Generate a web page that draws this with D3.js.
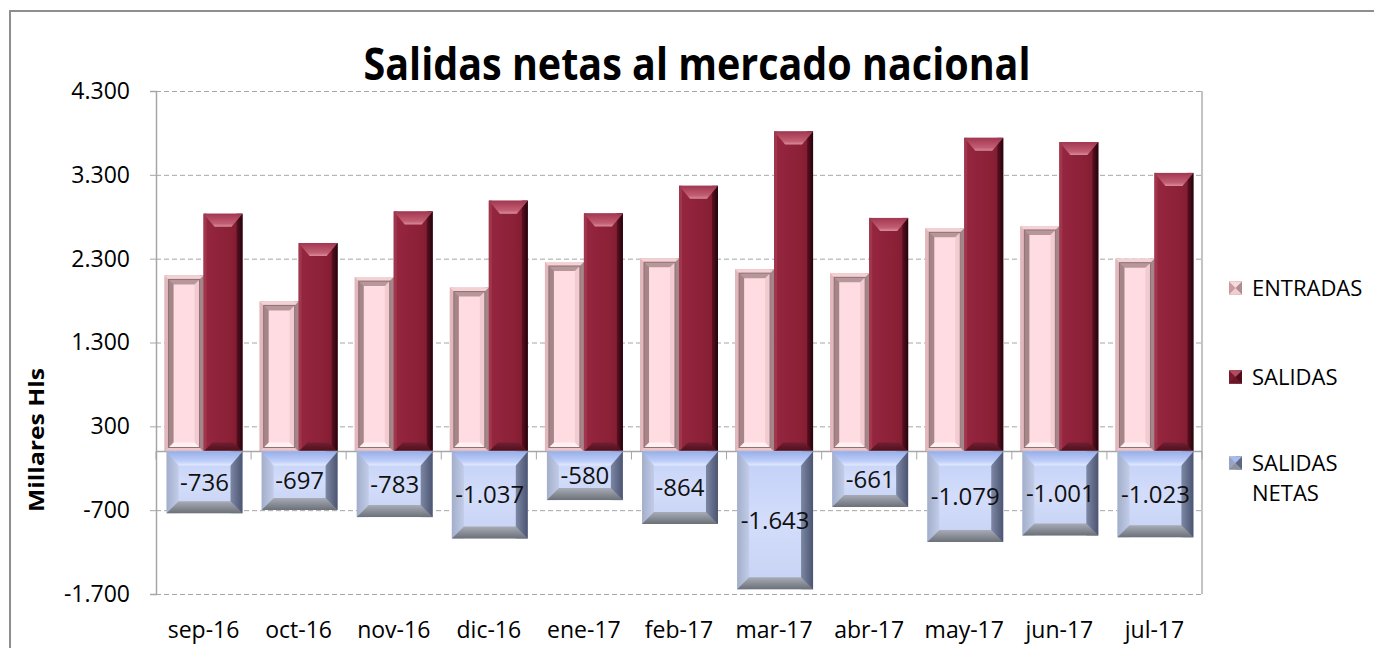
<!DOCTYPE html>
<html>
<head>
<meta charset="utf-8">
<script src="https://cdn.jsdelivr.net/npm/d3@7"></script>
<style>
  body { margin: 0; background: #fff; }
  svg { display: block; font-family: "Open Sans", sans-serif; }
</style>
</head>
<body>
<div id="chart"></div>
<script>
// datos (miles de hl)
var months = ["sep-16","oct-16","nov-16","dic-16","ene-17","feb-17","mar-17","abr-17","may-17","jun-17","jul-17"];
var entradas = [2100, 1790, 2080, 1955, 2260, 2305, 2175, 2125, 2662, 2690, 2300];
var salidas = [2836, 2487, 2863, 2992, 2840, 3169, 3818, 2786, 3741, 3691, 3323];
var netas = [-736, -697, -783, -1037, -580, -864, -1643, -661, -1079, -1001, -1023];
var yTicks = [-1700, -700, 300, 1300, 2300, 3300, 4300];
var seriesNames = ["ENTRADAS", "SALIDAS", "SALIDAS NETAS"];

var W = 1374, H = 648;
var margin = {top: 91, right: 172, bottom: 54, left: 156};
var plotW = W - margin.left - margin.right,
    plotH = H - margin.top - margin.bottom;

var es = d3.formatLocale({decimal: ",", thousands: ".", grouping: [3], currency: ["", "€"], minus: "-"});
var fmt = es.format(",d");

var svg = d3.select("#chart").append("svg")
  .attr("width", W).attr("height", H);

var defs = svg.append("defs");
function grad(id, stops, vertical) {
  var g = defs.append("linearGradient").attr("id", id)
    .attr("x1", 0).attr("y1", 0)
    .attr("x2", vertical ? 0 : 1).attr("y2", vertical ? 1 : 0);
  stops.forEach(function(s) {
    g.append("stop").attr("offset", s[0]).attr("stop-color", s[1]);
  });
  return "url(#" + id + ")";
}

// estilos de bisel
var styles = {
  ENTRADAS: {
    face: "#d8abb0", t: 4, ti: 4, b: 4, bi: 4, l: 4, r: 4,
    top: "#f4d1d5", bottom: "#ecc6ca", left: "#e3b8bd", right: "#a4868a",
    inner: true
  },
  SALIDAS: {
    face: grad("salFace", [["0", "#962640"], ["0.7", "#8a2036"], ["1", "#7a1a2e"]], false),
    t: 13, ti: 11, b: 9, bi: 9, l: 3, r: 6,
    top: grad("salTop", [["0", "#a13750"], ["0.75", "#c25e73"], ["1", "#d98c9b"]], true),
    bottom: grad("salBot", [["0", "#702033"], ["1", "#4e0d1b"]], true),
    left: "#a0364c",
    right: grad("salRight", [["0", "#5e1022"], ["1", "#22040b"]], false)
  },
  NETAS: {
    face: grad("netFace", [["0", "#c1cff6"], ["0.5", "#d3ddfb"], ["1", "#c6d2f4"]], true),
    t: 14, ti: 12, b: 12, bi: 12, l: 12, r: 12,
    top: grad("netTop", [["0", "#97aeea"], ["0.7", "#bfcff9"], ["1", "#e3eaff"]], true),
    bottom: grad("netBot", [["0", "#a7acb6"], ["1", "#6c7079"]], true),
    left: grad("netLeft", [["0", "#a2aeca"], ["1", "#c2cce8"]], false),
    right: grad("netRight", [["0", "#7d88a4"], ["1", "#4b5470"]], false)
  }
};

function bevel(g, x, y, w, h, s) {
  var t = Math.min(s.t, h / 2), b = Math.min(s.b, h / 2);
  g.append("rect").attr("x", x).attr("y", y).attr("width", w).attr("height", h).attr("fill", s.face);
  g.append("rect").attr("x", x).attr("y", y).attr("width", s.l).attr("height", h).attr("fill", s.left);
  g.append("rect").attr("x", x + w - s.r).attr("y", y).attr("width", s.r).attr("height", h).attr("fill", s.right);
  g.append("polygon").attr("fill", s.top)
    .attr("points", [[x, y], [x + w, y], [x + w - s.ti, y + t], [x + s.ti, y + t]].join(" "));
  g.append("polygon").attr("fill", s.bottom)
    .attr("points", [[x, y + h], [x + w, y + h], [x + w - s.bi, y + h - b], [x + s.bi, y + h - b]].join(" "));
  if (s.inner && h > 12) {
    var ix = x + s.l, iy = y + s.t, iw = w - s.l - s.r, ih = h - s.t - s.b, k = 5;
    g.append("rect").attr("x", ix).attr("y", iy).attr("width", iw).attr("height", ih).attr("fill", "#ffdce1");
    g.append("rect").attr("x", ix).attr("y", iy).attr("width", k).attr("height", ih).attr("fill", "#a68589");
    g.append("rect").attr("x", ix + iw - k).attr("y", iy).attr("width", k).attr("height", ih).attr("fill", "#f2cbd0");
    g.append("polygon").attr("fill", "#b8979b")
      .attr("points", [[ix, iy], [ix + iw, iy], [ix + iw - k, iy + k], [ix + k, iy + k]].join(" "));
    g.append("polygon").attr("fill", "#fff0f2")
      .attr("points", [[ix, iy + ih], [ix + iw, iy + ih], [ix + iw - k, iy + ih - k], [ix + k, iy + ih - k]].join(" "));
    g.append("rect").attr("x", ix).attr("y", iy).attr("width", iw).attr("height", ih)
      .attr("fill", "none").attr("stroke", "#8d6f73").attr("stroke-width", 1);
  }
}

var x = d3.scaleBand().domain(months).range([margin.left, margin.left + plotW]);
var xIn = d3.scaleBand().domain(["ENTRADAS", "SALIDAS"]).range([0, x.bandwidth()])
  .paddingInner(0).paddingOuter(0.22);
var y = d3.scaleLinear().domain([yTicks[0], yTicks[yTicks.length - 1]])
  .range([margin.top + plotH, margin.top]);

// marco exterior
svg.append("rect").attr("x", 10).attr("y", 11).attr("width", W).attr("height", H)
  .attr("fill", "none").attr("stroke", "#8e8e8e").attr("stroke-width", 2);

// titulo
svg.append("text").attr("x", 697).attr("y", 80).attr("text-anchor", "middle")
  .attr("font-size", 44).attr("font-weight", 700).attr("fill", "#000")
  .attr("textLength", 667).attr("lengthAdjust", "spacingAndGlyphs")
  .text("Salidas netas al mercado nacional");

// rejilla
svg.append("g")
  .attr("transform", "translate(" + margin.left + ",0)")
  .call(d3.axisLeft(y).tickValues(yTicks).tickSize(-plotW).tickFormat(""))
  .call(function(g) {
    g.select(".domain").remove();
    g.selectAll("line").attr("stroke", "#a6a6a6").attr("stroke-dasharray", "5,3");
  });

// borde derecho
svg.append("line").attr("x1", margin.left + plotW).attr("x2", margin.left + plotW)
  .attr("y1", margin.top).attr("y2", margin.top + plotH)
  .attr("stroke", "#b0b0b0").attr("stroke-width", 1.5);

// eje y
svg.append("g")
  .attr("transform", "translate(" + margin.left + ",0)")
  .call(d3.axisLeft(y).tickValues(yTicks).tickSize(6).tickPadding(20).tickFormat(fmt))
  .call(function(g) {
    g.select(".domain").attr("stroke", "#a6a6a6").attr("stroke-width", 1.5);
    g.selectAll("line").attr("stroke", "#a6a6a6");
    g.selectAll("text").attr("font-size", 23).attr("fill", "#000")
      .attr("font-family", "Open Sans, sans-serif");
  });

svg.append("text")
  .attr("transform", "translate(44,440) rotate(-90)")
  .attr("text-anchor", "middle").attr("font-size", 21).attr("font-weight", 700)
  .attr("textLength", 144).attr("lengthAdjust", "spacingAndGlyphs")
  .attr("fill", "#000").text("Millares  Hls");

// barras
var bars = svg.append("g");
months.forEach(function(m, i) {
  var x0 = x(m);
  var xe = x0 + xIn("ENTRADAS"), xs = x0 + xIn("SALIDAS"), bw = xIn.bandwidth();
  bevel(bars, xe, y(entradas[i]), bw, y(0) - y(entradas[i]), styles.ENTRADAS);
  bevel(bars, xs, y(salidas[i]), bw, y(0) - y(salidas[i]), styles.SALIDAS);
});

// eje de categorias (cero)
var xAxis = svg.append("g");
xAxis.append("line").attr("x1", margin.left).attr("x2", margin.left + plotW)
  .attr("y1", y(0)).attr("y2", y(0)).attr("stroke", "#a6a6a6").attr("stroke-width", 1.5);
xAxis.selectAll(".tk").data(months.concat(["end"])).enter().append("line")
  .attr("x1", function(d, i) { return margin.left + i * x.step(); })
  .attr("x2", function(d, i) { return margin.left + i * x.step(); })
  .attr("y1", y(0)).attr("y2", y(0) + 8).attr("stroke", "#a6a6a6");

var netG = svg.append("g");
months.forEach(function(m, i) {
  var x0 = x(m) + xIn("ENTRADAS") + 2;
  var w = xIn.bandwidth() * 2 - 2;
  var top = y(0), h = y(netas[i]) - y(0);
  bevel(netG, x0, top, w, h, styles.NETAS);
  netG.append("text").attr("x", x0 + w / 2).attr("y", top + h / 2)
    .attr("dy", "0.35em").attr("text-anchor", "middle")
    .attr("font-size", 24).attr("fill", "#111").text(fmt(netas[i]));
});

// etiquetas de meses
svg.append("g").selectAll("text").data(months).enter().append("text")
  .attr("x", function(d) { return x(d) + x.bandwidth() / 2; })
  .attr("y", 638).attr("text-anchor", "middle")
  .attr("font-size", 23).attr("fill", "#000")
  .text(function(d) { return d; });

// leyenda
var legendStyles = [
  {face: "#e2b6bb", t: 6.5, ti: 6.5, b: 6.5, bi: 6.5, l: 6.5, r: 6.5,
   top: "#f7dadd", bottom: "#f0cdd1", left: "#c99ba0", right: "#b08b90"},
  {face: "#8a2036", t: 6.5, ti: 6.5, b: 6.5, bi: 6.5, l: 6.5, r: 6.5,
   top: "#b24a60", bottom: "#6d1628", left: "#7a1a2e", right: "#4e0d1b"},
  {face: "#b6c2e4", t: 6.5, ti: 6.5, b: 6.5, bi: 6.5, l: 6.5, r: 6.5,
   top: "#a8bbf0", bottom: "#8d929c", left: "#9aa4c0", right: "#5e6782"}
];
var legendY = [288, 377, 463];
var legend = svg.append("g");
seriesNames.forEach(function(name, i) {
  bevel(legend, 1229, legendY[i] - 6.5, 13, 13, legendStyles[i]);
  var t = legend.append("text").attr("x", 1252).attr("y", legendY[i])
    .attr("font-size", 22).attr("fill", "#000");
  var words = name === "SALIDAS NETAS" ? ["SALIDAS", "NETAS"] : [name];
  words.forEach(function(wd, j) {
    t.append("tspan").attr("x", 1252).attr("dy", j === 0 ? "0.35em" : 30).text(wd);
  });
});
</script>
</body>
</html>
